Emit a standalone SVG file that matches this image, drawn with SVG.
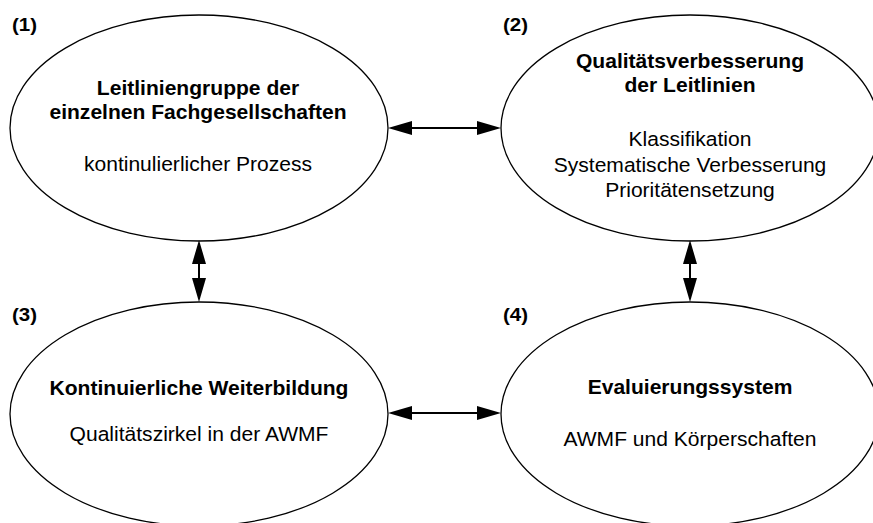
<svg xmlns="http://www.w3.org/2000/svg" width="873" height="523" viewBox="0 0 873 523">
<style>
.bg{fill:#fff}
.el{fill:#fff;stroke:#000;stroke-width:1.3}
.t{font-family:"Liberation Sans",Arial,sans-serif;font-size:19.5px;fill:#000;text-anchor:middle}
.b{font-weight:bold}
.lbl{font-family:"Liberation Sans",Arial,sans-serif;font-size:19px;font-weight:bold;fill:#000}
.con{stroke:#000;stroke-width:2;fill:none;marker-start:url(#ah);marker-end:url(#ah)}
</style>
<defs>
<marker id="ah" viewBox="0 0 24 14" markerWidth="24" markerHeight="14" refX="14" refY="7" markerUnits="userSpaceOnUse" orient="auto-start-reverse">
<path d="M0,0 L24,7 L0,14 z" fill="#000"/>
</marker>
</defs>
<rect class="bg" width="873" height="523"/>
<g id="node1">
<ellipse class="el" cx="199" cy="128" rx="189" ry="113"/>
<g transform="translate(198,0) scale(1.08,1)">
<text class="t b" x="0" y="95">Leitliniengruppe der</text>
<text class="t b" x="0" y="119">einzelnen Fachgesellschaften</text>
<text class="t" x="0" y="171">kontinulierlicher Prozess</text>
</g>
<text class="lbl" transform="translate(12,31) scale(1.08,1)">(1)</text>
</g>
<g id="node2">
<ellipse class="el" cx="690" cy="128" rx="189" ry="113"/>
<g transform="translate(690,0) scale(1.08,1)">
<text class="t b" x="0" y="68">Qualitätsverbesserung</text>
<text class="t b" x="0" y="92">der Leitlinien</text>
<text class="t" x="0" y="146">Klassifikation</text>
<text class="t" x="0" y="172">Systematische Verbesserung</text>
<text class="t" x="0" y="197">Prioritätensetzung</text>
</g>
<text class="lbl" transform="translate(503,31) scale(1.08,1)">(2)</text>
</g>
<g id="node3">
<ellipse class="el" cx="199" cy="414" rx="189" ry="112"/>
<g transform="translate(199,0) scale(1.08,1)">
<text class="t b" x="0" y="395">Kontinuierliche Weiterbildung</text>
<text class="t" x="0" y="441">Qualitätszirkel in der AWMF</text>
</g>
<text class="lbl" transform="translate(12,321) scale(1.08,1)">(3)</text>
</g>
<g id="node4">
<ellipse class="el" cx="690" cy="414" rx="189" ry="112"/>
<g transform="translate(690,0) scale(1.08,1)">
<text class="t b" x="0" y="394">Evaluierungssystem</text>
<text class="t" x="0" y="446">AWMF und Körperschaften</text>
</g>
<text class="lbl" transform="translate(503,321) scale(1.08,1)">(4)</text>
</g>
<g id="connectors">
<line class="con" x1="398" y1="128" x2="491" y2="128"/>
<line class="con" x1="398" y1="413" x2="491" y2="413"/>
<line class="con" x1="199" y1="250" x2="199" y2="292"/>
<line class="con" x1="690" y1="250" x2="690" y2="292"/>
</g>
</svg>
